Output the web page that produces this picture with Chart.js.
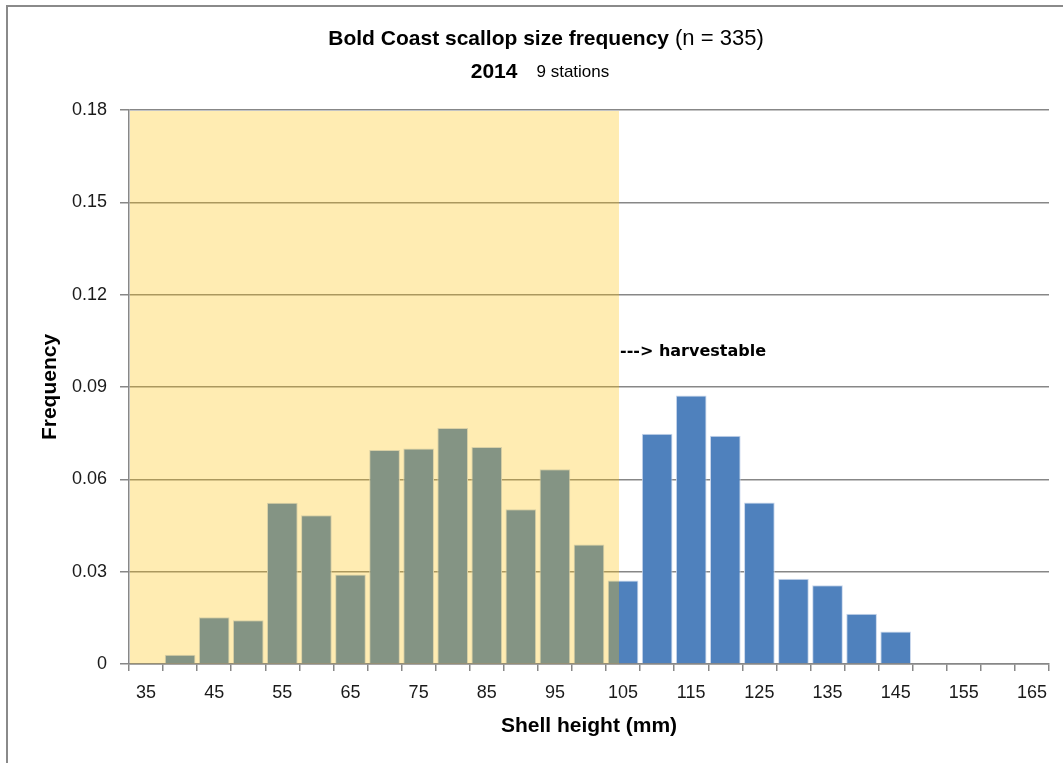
<!DOCTYPE html>
<html>
<head>
<meta charset="utf-8">
<title>Bold Coast scallop size frequency</title>
<script src="https://cdn.jsdelivr.net/npm/chart.js@4/dist/chart.umd.min.js"></script>
<style>
  html, body { margin: 0; padding: 0; background: #ffffff; }
  canvas { display: block; }
</style>
</head>
<body>
<canvas id="chart" width="1063" height="763"></canvas>
<script>
// Shell height classes (mm), 5 mm bins
const sizeClasses = ['35','40','45','50','55','60','65','70','75','80','85','90','95','100',
                     '105','110','115','120','125','130','135','140','145','150','155','160','165'];
// Proportion of scallops in each class (n = 335)
const frequency = [0, 0.0030, 0.0152, 0.0142, 0.0524, 0.0483, 0.0291, 0.0695, 0.0700, 0.0767,
                   0.0705, 0.0503, 0.0633, 0.0388, 0.0271, 0.0748, 0.0872, 0.0742, 0.0525,
                   0.0277, 0.0256, 0.0163, 0.0106, 0, 0, 0, 0];
// Frequency axis ticks
const yTicks = [0, 0.03, 0.06, 0.09, 0.12, 0.15, 0.18];
// Sub-harvestable size range (mm) shaded in the plot
const undersizeFrom = 32.5;
const undersizeTo = 104.4;
const harvestLabel = '---> harvestable';
const harvestLabelY = 0.102;

const FONT = '"Liberation Sans", Arial, sans-serif';
const GRID = '#878787';

// Converts a shell height in mm to a fractional category index
const mmToIndex = mm => (mm - 35) / 5;

const framePlugin = {
  id: 'frame',
  beforeDraw(chart) {
    const ctx = chart.ctx;
    ctx.save();
    ctx.fillStyle = '#ffffff';
    ctx.fillRect(0, 0, chart.width, chart.height);
    ctx.strokeStyle = '#8a8a8a';
    ctx.lineWidth = 2;
    ctx.strokeRect(7, 6, chart.width + 20, chart.height + 20);
    ctx.restore();
  }
};

const shadePlugin = {
  id: 'undersizeShade',
  afterDatasetsDraw(chart) {
    const {ctx, scales: {x, y}} = chart;
    const x0 = x.getPixelForValue(mmToIndex(undersizeFrom + 2.5) - 0.5);
    const x1 = x.getPixelForValue(mmToIndex(undersizeTo));
    const yTop = y.getPixelForValue(yTicks[yTicks.length - 1]);
    const yBot = y.getPixelForValue(0);
    ctx.save();
    ctx.fillStyle = 'rgba(255, 192, 0, 0.30)';
    ctx.fillRect(x0 + 1, yTop + 1, x1 - x0 - 1, yBot - yTop - 1.5);
    // annotation marking the start of the harvestable range
    ctx.fillStyle = '#000000';
    ctx.font = 'bold 16px "DejaVu Sans", Verdana, sans-serif';
    ctx.textBaseline = 'alphabetic';
    ctx.textAlign = 'left';
    ctx.fillText(harvestLabel, x1 + 1, y.getPixelForValue(harvestLabelY) + 6);
    ctx.restore();
  }
};

const titlePlugin = {
  id: 'twoPartTitle',
  afterDraw(chart) {
    const ctx = chart.ctx;
    const drawLine = (parts, cx, cy, gap) => {
      let total = 0;
      parts.forEach(p => { ctx.font = p.font; p.w = ctx.measureText(p.text).width; total += p.w; });
      total += gap * (parts.length - 1);
      let xPos = cx - total / 2;
      parts.forEach(p => {
        ctx.font = p.font;
        ctx.fillText(p.text, xPos, cy);
        xPos += p.w + gap;
      });
    };
    ctx.save();
    ctx.fillStyle = '#000000';
    ctx.textBaseline = 'middle';
    ctx.textAlign = 'left';
    drawLine([
      {text: 'Bold Coast scallop size frequency', font: 'bold 21px ' + FONT},
      {text: '(n = 335)', font: '22px ' + FONT}
    ], 546, 39, 6);
    drawLine([
      {text: '2014', font: 'bold 21px ' + FONT},
      {text: '9 stations', font: '17px ' + FONT}
    ], 540, 72, 19);
    ctx.restore();
  }
};

new Chart(document.getElementById('chart'), {
  type: 'bar',
  data: {
    labels: sizeClasses,
    datasets: [{
      data: frequency,
      backgroundColor: '#4f81bd',
      borderColor: '#c9d7ec',
      borderWidth: c => (c.raw > 0 ? 1 : 0),
      borderSkipped: 'start',
      barPercentage: 0.9,
      categoryPercentage: 1.0
    }]
  },
  options: {
    responsive: false,
    animation: false,
    devicePixelRatio: 1,
    layout: { padding: { top: 110, right: 14, bottom: 0, left: 0 } },
    plugins: {
      legend: { display: false },
      title: { display: false },
      tooltip: { enabled: false }
    },
    scales: {
      x: {
        offset: true,
        afterFit: s => { s.height = 99; },
        grid: {
          offset: true,
          drawOnChartArea: false,
          drawTicks: true,
          tickLength: 7,
          color: GRID,
          lineWidth: 1.5
        },
        border: { display: true, color: GRID, width: 1.5 },
        ticks: {
          autoSkip: false,
          maxRotation: 0,
          padding: 11,
          color: '#1a1a1a',
          font: { family: FONT, size: 18 },
          callback: (v, i) => (i % 2 === 0 ? sizeClasses[i] : '')
        },
        title: {
          display: true,
          text: 'Shell height (mm)',
          color: '#000000',
          font: { family: FONT, size: 21, weight: 'bold' },
          padding: { top: 0, bottom: 24 }
        }
      },
      y: {
        min: 0,
        max: yTicks[yTicks.length - 1],
        afterFit: s => { s.width = 129; },
        afterBuildTicks: s => { s.ticks = yTicks.map(v => ({ value: v })); },
        grid: {
          color: GRID,
          lineWidth: 1.5,
          drawTicks: true,
          tickLength: 9
        },
        border: { display: true, color: GRID, width: 1.5 },
        ticks: {
          padding: 13,
          color: '#1a1a1a',
          font: { family: FONT, size: 18 },
          callback: v => (v === 0 ? '0' : v.toFixed(2))
        },
        title: {
          display: true,
          text: 'Frequency',
          color: '#000000',
          font: { family: FONT, size: 21, weight: 'bold' },
          padding: { top: 38, bottom: 0 }
        }
      }
    }
  },
  plugins: [framePlugin, shadePlugin, titlePlugin]
});
</script>
</body>
</html>
